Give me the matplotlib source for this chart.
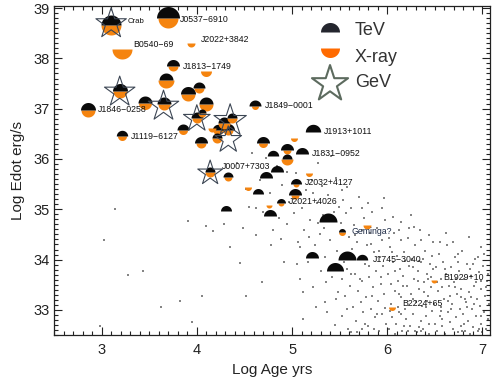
import numpy as np
import matplotlib
matplotlib.use("Agg")
import matplotlib.pyplot as plt
from matplotlib.path import Path
from matplotlib.ticker import MultipleLocator

plt.rcParams['font.family'] = ['Liberation Sans', 'DejaVu Sans']

# ---------------- PWN / pulsar sample ----------------
src_age = [3.10, 3.695, 3.94, 3.21, 3.75, 3.68, 4.10, 3.91, 4.02, 2.86,
           3.19, 3.46, 3.65, 3.21, 3.86, 4.04, 4.10, 4.00, 4.05, 4.22,
           4.33, 4.29, 4.37, 4.21, 4.16, 4.61, 4.69, 5.02, 5.22, 5.11,
           4.95, 4.80, 4.95, 5.18, 4.84, 4.73, 5.04, 5.03, 4.64, 4.76,
           4.88, 4.77, 5.38, 5.53, 5.79, 5.21, 5.58, 5.73, 5.45, 4.31,
           4.14, 4.33, 4.54, 6.49, 6.05]
src_edot = [38.66, 38.80, 38.31, 38.18, 37.84, 37.57, 37.74, 37.29, 37.41, 36.98,
            37.35, 37.11, 37.09, 36.45, 36.58, 36.32, 37.10, 36.82, 36.91, 36.58,
            36.58, 36.72, 36.82, 36.41, 36.62, 37.06, 36.32, 36.42, 36.53, 36.10,
            36.18, 36.05, 36.00, 35.73, 35.74, 35.62, 35.50, 35.29, 35.30, 35.09,
            35.12, 34.86, 34.75, 34.55, 34.69, 34.03, 34.00, 34.00, 33.77, 34.97,
            35.75, 35.65, 35.45, 33.60, 33.06]
# half-disk radii (px); 0 = not detected in that band
tev_mark = [10, 11.5, 0, 0, 6.5, 7, 0, 7.5, 6, 7.5,
            7.5, 7, 7, 5.7, 6, 6.5, 7, 6, 4, 5.7,
            6.5, 6, 5, 5, 0, 6, 6.5, 0, 7.7, 6.5,
            6.5, 5.7, 5, 0, 6.5, 6.5, 5.5, 6.5, 5.5, 0,
            4.5, 6.5, 9, 3.5, 0, 6.5, 9, 5.7, 8.5, 5.5,
            5, 5, 0, 0, 0]
xray_mark = [10, 10, 4, 10, 5, 8, 5.5, 7, 5, 7,
             7, 6.5, 6, 4.5, 4.5, 5, 7, 5, 4, 5,
             5, 6, 5, 5, 4, 3.5, 4.5, 3.5, 0, 0,
             4, 0, 6, 3.5, 0, 0, 3, 4, 0, 3,
             3, 0, 0, 3.5, 4, 0, 0, 0, 0, 0,
             5, 4, 3.5, 3, 3.5]

# GeV counterparts (star outline radius in px)
gev_age = [3.10, 3.19, 3.65, 4.00, 4.35, 4.33, 4.14]
gev_edot = [38.69, 37.33, 37.05, 36.80, 36.76, 36.38, 35.72]
gev_mark = [16, 16, 16, 14, 17, 14, 13]

# source names and where they are written
lab_text = ['Crab', 'J0537\u22126910', 'J2022+3842', 'B0540\u221269', 'J1813\u22121749',
            'J1846\u22120258', 'J1119\u22126127', 'J1849\u22120001', 'J1913+1011',
            'J1831\u22120952', 'J0007+7303', 'J2032+4127', 'J2021+4026', 'Geminga?',
            'J1745\u22123040', 'B1929+10', 'B2224+65']
lab_age = [3.27, 3.82, 4.04, 3.33, 3.85, 2.96, 3.31, 4.72, 5.33,
           5.21, 4.26, 5.14, 4.97, 5.63, 5.85, 6.59, 6.16]
lab_edot = [38.74, 38.78, 38.38, 38.27, 37.83, 36.98, 36.44, 37.06, 36.54,
            36.10, 35.85, 35.53, 35.15, 34.56, 34.00, 33.64, 33.13]

# ATNF background pulsars
bg_pulsars = [
    (2.98, 32.68), (3.02, 34.38), (3.14, 35.00), (3.28, 33.70), (3.43, 33.78),
    (3.62, 33.06), (3.82, 33.17), (3.91, 34.77), (3.95, 32.76), (4.05, 33.27),
    (4.10, 34.66), (4.17, 34.56), (4.29, 34.70), (4.45, 33.93), (4.52, 33.27),
    (4.42, 35.92), (4.48, 34.62), (4.55, 35.05), (4.58, 36.12), (4.62, 34.48),
    (4.66, 35.58), (4.70, 34.95), (4.73, 36.02), (4.77, 35.32), (4.80, 34.58),
    (4.84, 35.86), (4.86, 34.82), (4.90, 35.48), (4.93, 36.25), (4.95, 34.70),
    (4.97, 35.15), (4.52, 35.40), (4.88, 34.40),
    (5.02, 34.92), (5.04, 35.72), (5.06, 34.35), (5.08, 33.62), (5.10, 35.02),
    (5.12, 36.18), (5.13, 34.58), (5.15, 35.38), (5.17, 33.95), (5.19, 34.78),
    (5.21, 35.58), (5.22, 33.45), (5.24, 34.28), (5.26, 35.12), (5.27, 35.92),
    (5.29, 34.50), (5.30, 33.78), (5.32, 35.46), (5.33, 34.88), (5.35, 34.05),
    (5.36, 33.55), (5.38, 35.28), (5.40, 34.38), (5.41, 36.05), (5.43, 33.88),
    (5.44, 34.95), (5.46, 35.62), (5.47, 34.18), (5.48, 33.35), (5.49, 35.05),
    (5.05, 33.92), (5.25, 33.05), (5.12, 32.82), (5.37, 32.95), (5.45, 32.70),
    (5.51, 34.72), (5.52, 33.62), (5.53, 32.88), (5.54, 35.18), (5.55, 34.12),
    (5.56, 33.28), (5.57, 34.92), (5.58, 33.82), (5.59, 32.62), (5.60, 34.45),
    (5.61, 33.48), (5.62, 35.02), (5.63, 34.22), (5.64, 33.05), (5.65, 34.68),
    (5.66, 33.72), (5.67, 32.78), (5.68, 34.35), (5.69, 33.38), (5.70, 35.25),
    (5.71, 34.02), (5.72, 33.15), (5.73, 34.58), (5.74, 33.58), (5.75, 32.95),
    (5.76, 34.82), (5.77, 33.92), (5.78, 33.25), (5.79, 34.28), (5.80, 32.68),
    (5.81, 33.65), (5.82, 34.52), (5.83, 33.02), (5.84, 34.95), (5.85, 33.45),
    (5.86, 34.15), (5.87, 32.85), (5.88, 33.78), (5.89, 34.62), (5.90, 33.18),
    (5.91, 32.58), (5.92, 34.05), (5.93, 33.52), (5.94, 34.38), (5.95, 32.92),
    (5.96, 33.88), (5.97, 33.32), (5.98, 34.78), (5.99, 32.72), (5.62, 32.55),
    (5.74, 32.62), (5.86, 32.62), (5.58, 35.45), (5.80, 35.12), (5.94, 35.02),
    (6.01, 33.72), (6.02, 32.62), (6.03, 34.25), (6.04, 33.12), (6.05, 32.85),
    (6.06, 33.95), (6.07, 34.52), (6.08, 33.38), (6.09, 32.72), (6.10, 34.08),
    (6.11, 33.58), (6.12, 32.95), (6.13, 33.82), (6.14, 34.38), (6.15, 33.25),
    (6.16, 32.58), (6.17, 33.68), (6.18, 34.15), (6.19, 33.02), (6.20, 32.82),
    (6.21, 33.48), (6.22, 34.42), (6.23, 33.88), (6.24, 32.68), (6.25, 33.32),
    (6.26, 34.02), (6.27, 32.92), (6.28, 33.62), (6.29, 34.28), (6.30, 33.15),
    (6.31, 32.55), (6.32, 33.78), (6.33, 33.42), (6.34, 34.58), (6.35, 32.78),
    (6.36, 33.95), (6.37, 33.08), (6.38, 32.62), (6.39, 33.55), (6.40, 34.18),
    (6.41, 32.88), (6.42, 33.72), (6.43, 33.28), (6.44, 32.52), (6.45, 33.92),
    (6.46, 33.45), (6.47, 32.98), (6.48, 34.35), (6.49, 33.12), (6.50, 32.72),
    (6.04, 33.52), (6.12, 33.32), (6.19, 33.98), (6.27, 33.22), (6.33, 32.65),
    (6.41, 33.05), (6.46, 33.65), (6.08, 32.52), (6.22, 32.58), (6.36, 32.58),
    (6.14, 34.75), (6.28, 34.65), (6.06, 34.85), (6.44, 34.48), (6.38, 34.02),
    (6.51, 33.85), (6.52, 32.58), (6.53, 33.38), (6.54, 34.12), (6.55, 32.88),
    (6.56, 33.62), (6.57, 33.05), (6.58, 32.68), (6.59, 33.95), (6.60, 33.22),
    (6.61, 32.52), (6.62, 33.72), (6.63, 34.28), (6.64, 32.95), (6.65, 33.48),
    (6.66, 32.75), (6.67, 33.85), (6.68, 33.12), (6.69, 32.62), (6.70, 33.55),
    (6.71, 34.05), (6.72, 32.85), (6.73, 33.32), (6.74, 32.55), (6.75, 33.78),
    (6.76, 33.02), (6.77, 32.68), (6.78, 33.42), (6.79, 34.18), (6.80, 32.92),
    (6.81, 33.62), (6.82, 32.58), (6.83, 33.15), (6.84, 33.92), (6.85, 32.78),
    (6.86, 33.35), (6.87, 32.52), (6.88, 33.68), (6.89, 33.02), (6.90, 32.65),
    (6.91, 33.48), (6.92, 34.02), (6.93, 32.88), (6.94, 33.22), (6.95, 32.58),
    (6.96, 33.75), (6.97, 33.08), (6.98, 32.72), (6.99, 33.42), (7.00, 32.55),
    (7.01, 33.88), (7.02, 32.95), (7.03, 33.28), (7.04, 32.62), (7.05, 33.58),
    (7.06, 32.82), (7.07, 33.12), (6.58, 33.45), (6.66, 33.28), (6.74, 33.95),
    (6.82, 33.22), (6.90, 33.92), (6.98, 34.25), (6.62, 34.52), (6.86, 34.45),
    (5.55, 33.95), (5.83, 34.31), (6.27, 33.85), (6.64, 33.18), (6.93, 33.55),
    (5.71, 33.61), (6.05, 34.15), (6.47, 34.08), (6.81, 32.71), (5.98, 33.04),
    (5.34, 34.62), (6.15, 32.91), (6.56, 32.98), (6.99, 32.88), (5.62, 33.72),
    (6.39, 33.36), (6.72, 33.61), (5.89, 32.92), (6.23, 34.62), (6.87, 33.82),
    (5.46, 33.22), (6.11, 33.06), (6.61, 33.82), (7.04, 33.45), (5.77, 32.72),
    (6.33, 33.98), (6.77, 33.25), (5.93, 33.65), (6.18, 32.68), (6.52, 33.55),
    (5.27, 34.72), (5.66, 34.48), (6.02, 34.42), (6.44, 32.72), (6.91, 33.12),
    (5.58, 33.02), (6.29, 32.58), (6.69, 34.35), (6.96, 32.62), (5.84, 33.28),
    (5.18, 34.45), (5.52, 35.38), (5.97, 35.22), (6.25, 34.88), (6.74, 34.12),
    (7.02, 34.12), (5.68, 32.55), (6.08, 33.78), (6.42, 33.18), (6.84, 33.05),
    (5.42, 33.65), (5.81, 33.88), (6.36, 34.38), (6.58, 32.82), (6.95, 34.05),
    (6.12, 34.58), (5.73, 35.02), (6.48, 33.82), (6.79, 32.58), (7.06, 33.72),
    (4.62, 35.02), (4.95, 35.75), (5.08, 34.25), (4.78, 34.28), (5.22, 35.32),
    (4.35, 34.25), (4.68, 33.55), (5.12, 33.35), (4.92, 33.95), (5.35, 33.15),
    (6.32, 33.58), (6.55, 34.35), (6.67, 33.02), (6.88, 33.25), (6.03, 32.98),
    (6.17, 33.48), (6.43, 33.62), (6.71, 33.45), (6.98, 33.58), (5.91, 34.18),
]

BLACK = '#0a0a0a'
ORANGE = '#f5840f'
STAR_EDGE = '#3c4654'

# half-disk marker paths, flat edge through the data point
theta = np.linspace(0.0, np.pi, 48)
arc = np.column_stack([np.cos(theta), np.sin(theta)])
arc = np.vstack([arc, arc[:1]])
upper_half = Path(arc, closed=True)
lower_half = Path(arc * np.array([1.0, -1.0]), closed=True)


def area(r_px):
    # scatter size (pt^2) for a marker of radius r_px pixels at 100 dpi
    return (2.0 * np.asarray(r_px, float) * 0.72) ** 2


fig = plt.figure(figsize=(4.92, 3.81), dpi=100)
ax = fig.add_axes([0.1098, 0.1207, 0.8862, 0.8633])

bg = np.array(bg_pulsars)
ax.scatter(bg[:, 0], bg[:, 1], s=1.3, marker='s', c='#858585',
           linewidths=0, zorder=1)

age = np.array(src_age)
edot = np.array(src_edot)
tev = np.array(tev_mark, float)
xr = np.array(xray_mark, float)
for i in range(len(age)):
    if xr[i] > 0:
        ax.scatter(age[i], edot[i], s=area(xr[i]), marker=lower_half,
                   c=ORANGE, linewidths=0, zorder=3)
    if tev[i] > 0:
        ax.scatter(age[i], edot[i], s=area(tev[i]), marker=upper_half,
                   c=BLACK, linewidths=0, zorder=3)

ax.scatter(gev_age, gev_edot, s=area(gev_mark), marker='*',
           facecolors='none', edgecolors=STAR_EDGE, linewidths=0.8, zorder=4)

for t, x, y in zip(lab_text, lab_age, lab_edot):
    col = '#1d2a45' if t.startswith('Geminga') else '#111111'
    fs = 5.6 if t == 'Crab' else 6.3
    ax.text(x, y, t, fontsize=fs, color=col, ha='left', va='center', zorder=5)

# legend
ax.scatter([0.633], [0.921], s=area(9.5), marker=upper_half, c='#24262e',
           linewidths=0, transform=ax.transAxes, zorder=5)
ax.scatter([0.633], [0.873], s=area(9.5), marker=lower_half, c='#ff6a00',
           linewidths=0, transform=ax.transAxes, zorder=5)
ax.scatter([0.633], [0.763], s=area(19), marker='*', facecolors='none',
           edgecolors='#5d6b5f', linewidths=1.5, transform=ax.transAxes, zorder=5)
for t, y in zip(['TeV', 'X-ray', 'GeV'], [0.927, 0.845, 0.769]):
    ax.text(0.690, y, t, transform=ax.transAxes, fontsize=13, color='#333333',
            ha='left', va='center')

ax.set_xlim(2.5, 7.08)
ax.set_ylim(32.5, 39.04)
ax.xaxis.set_major_locator(MultipleLocator(1))
ax.xaxis.set_minor_locator(MultipleLocator(0.1))
ax.yaxis.set_major_locator(MultipleLocator(1))
ax.yaxis.set_minor_locator(MultipleLocator(0.1))
ax.tick_params(which='both', direction='in', top=True, right=True,
               colors='#222222', width=0.8)
ax.tick_params(which='major', length=5.5, labelsize=10.5)
ax.tick_params(which='minor', length=2.8)
ax.tick_params(axis='x', pad=6)
ax.tick_params(axis='y', pad=3)
for sp in ax.spines.values():
    sp.set_linewidth(0.9)
    sp.set_color('#222222')

ax.set_xlabel('Log Age yrs', fontsize=11, color='#222222', labelpad=4)
ax.set_ylabel('Log Edot erg/s', fontsize=11, color='#222222', labelpad=6)

fig.savefig('out.png', dpi=100)
